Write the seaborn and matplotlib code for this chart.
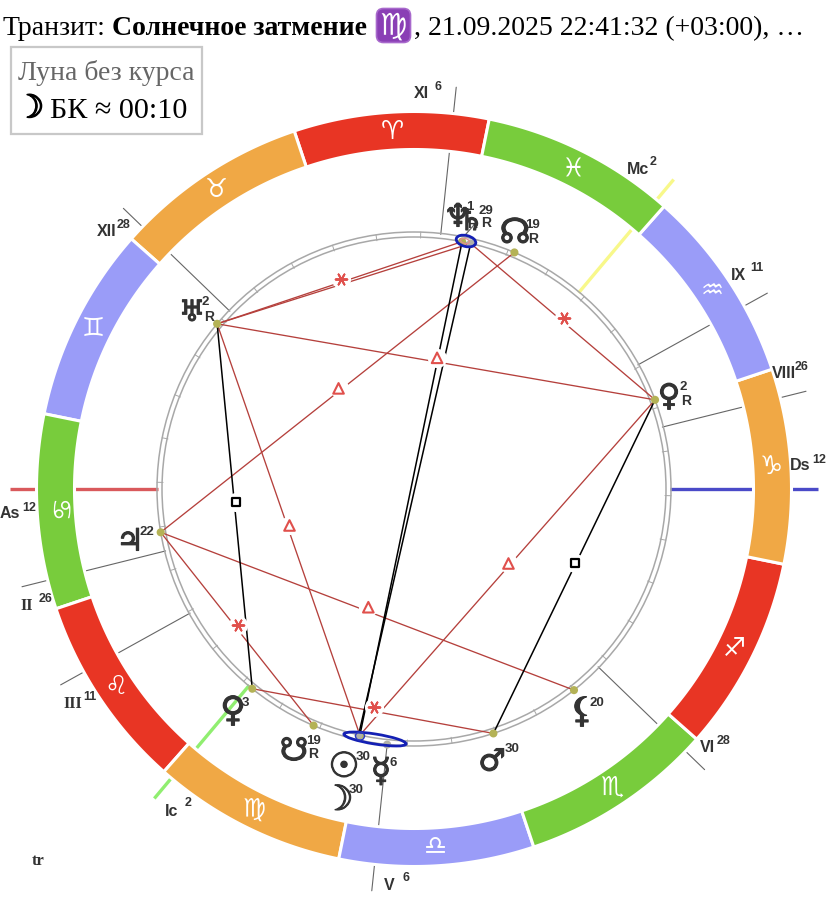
import matplotlib
matplotlib.use("Agg")
import matplotlib.pyplot as plt
import matplotlib.patheffects as pe
from matplotlib.patches import Circle, Ellipse, FancyBboxPatch, Rectangle
import numpy as np
import pandas as pd
import seaborn as sns

sns.set_theme(style="white")
plt.rcParams['font.family'] = ['Liberation Serif', 'DejaVu Sans']

# zodiac, starting from Aries
SIGNS = ["♈", "♉", "♊", "♋", "♌", "♍", "♎", "♏", "♐", "♑", "♒", "♓"]
SIGN_COLORS = ["#e83524", "#f0a845", "#9a9cf8", "#78cc3c"] * 3

# house cusps, ecliptic longitude in degrees
CUSP_NAMES = ["As", "II", "III", "Ic", "V", "VI", "Ds", "VIII", "IX", "Mc", "XI", "XII"]
CUSP_LON = [101.5, 115.5, 130.5, 151.5, 185.5, 237.5, 281.5, 295.5, 310.5, 331.5, 5.5, 57.5]
CUSP_DEG = ["12", "26", "11", "2", "6", "28", "12", "26", "11", "2", "6", "28"]

# planets, ecliptic longitude in degrees
PLANET_NAMES = ["sun", "moon", "mercury", "venus", "mars", "jupiter", "saturn",
                "uranus", "neptune", "pluto", "node", "snode", "lilith"]
PLANET_LON = [179.1, 178.8, 185.5, 152.5, 209.5, 111.2, 358.5, 61.5, 0.5, 301.8, 348.5, 168.5, 230]
PLANET_DEG = ["30", "30", "6", "3", "30", "22", "29", "2", "1", "2", "19", "19", "20"]
PLANET_RETRO = [False, False, False, False, False, False, True, True, True, True, True, True, False]
PLANET_GLYPHS = ["☉", "☽", "☿", "♀", "♂", "♃", "♄", "♅", "♆", "♀", "☊", "☋", "⚸"]

# aspects as pairs of planets
RED_TRINES = [("uranus", "pluto"), ("node", "jupiter"), ("uranus", "sun"),
              ("jupiter", "lilith"), ("pluto", "sun")]
RED_SEXTILES = [("uranus", "neptune"), ("pluto", "saturn"), ("jupiter", "snode"),
                ("venus", "mars")]
RED_PLAIN = [("uranus", "saturn")]
BLACK_SQUARES = [("uranus", "venus"), ("pluto", "mars")]
BLACK_PLAIN = [("neptune", "sun"), ("saturn", "moon")]

CX, CY = 414, 489
TEXT_DARK = "#333333"
INNER_PLANETS = ["sun", "moon", "saturn", "neptune"]


def pol(lon, r):
    t = np.radians(180 + lon - CUSP_LON[0])
    return CX + r * np.cos(t), CY - r * np.sin(t)


lon_of = dict(zip(PLANET_NAMES, PLANET_LON))


def planet_xy(name):
    return pol(lon_of[name], 252 if name in INNER_PLANETS else 257)


def ends(pair):
    return planet_xy(pair[0]), planet_xy(pair[1])


def mids(pairs):
    # the marks sit a little above the true middle of their line
    pts = [ends(p) for p in pairs]
    return pd.DataFrame({"x": [(a[0] + b[0]) / 2 + 1 for a, b in pts],
                         "y": [(a[1] + b[1]) / 2 - 4 for a, b in pts]})


def segments(pairs):
    rows = []
    for i, p in enumerate(pairs):
        a, b = ends(p)
        rows.append({"id": i, "x": a[0], "y": a[1]})
        rows.append({"id": i, "x": b[0], "y": b[1]})
    return pd.DataFrame(rows)


fig = plt.figure(figsize=(8.28, 8.99), dpi=100)
ax = fig.add_axes([0, 0, 1, 1])

# cusp lines go first, the band covers them
axis_colors = {"As": "#d9595c", "Ds": "#4a4ac8", "Mc": "#f8f88a", "Ic": "#90ee70"}
for name, lon in zip(CUSP_NAMES, CUSP_LON):
    a, b = pol(lon, 256), pol(lon, 404)
    if name in axis_colors:
        ax.plot([a[0], b[0]], [a[1], b[1]], color=axis_colors[name], lw=2.4, zorder=1,
                solid_capstyle="butt")
    else:
        ax.plot([a[0], b[0]], [a[1], b[1]], color="#666666", lw=0.8, zorder=1)

# zodiac band
for i, (sign, col) in enumerate(zip(SIGNS, SIGN_COLORS)):
    arc = np.linspace(i * 30, i * 30 + 30, 40)
    outer = np.array([pol(l, 377.5) for l in arc])
    inner = np.array([pol(l, 339.5) for l in arc[::-1]])
    pts = np.vstack([outer, inner])
    ax.fill(pts[:, 0], pts[:, 1], facecolor=col, edgecolor="white", lw=2.2, zorder=2)
    gx, gy = pol(i * 30 + 15, 358)
    ax.text(gx, gy, sign, color="white", fontsize=18.5, ha="center", va="center",
            family="DejaVu Sans", rotation=-90 if sign == "♋" else 0, zorder=3)

# inner double ring with 10 degree ticks
for r in (257, 252):
    ax.add_patch(Circle((CX, CY), r, fill=False, ec="#a8a8a8", lw=1.1, zorder=3))
for lon in range(0, 360, 10):
    a, b = pol(lon, 251), pol(lon, 257)
    ax.plot([a[0], b[0]], [a[1], b[1]], color="#a8a8a8", lw=0.7, zorder=3)

# aspect lines
red_lines = segments(RED_TRINES + RED_SEXTILES + RED_PLAIN)
sns.lineplot(data=red_lines, x="x", y="y", units="id", estimator=None, sort=False,
             color="#b5403c", lw=0.95, legend=False, ax=ax, zorder=4)
black_lines = segments(BLACK_SQUARES + BLACK_PLAIN)
sns.lineplot(data=black_lines, x="x", y="y", units="id", estimator=None, sort=False,
             color="black", lw=1.1, legend=False, ax=ax, zorder=4)

# aspect marks sit on a white spot that breaks the line
all_marks = mids(RED_TRINES + RED_SEXTILES + BLACK_SQUARES)
sns.scatterplot(data=all_marks, x="x", y="y", s=190, color="white", linewidth=0,
                legend=False, ax=ax, zorder=5)
sns.scatterplot(data=mids(RED_TRINES), x="x", y="y", marker="^", s=58, facecolor="none",
                edgecolor="#e0504c", linewidth=1.5, legend=False, ax=ax, zorder=6)
sns.scatterplot(data=mids(RED_SEXTILES), x="x", y="y", marker=(6, 2, 90), s=70,
                color="#e0504c", linewidth=1.4, legend=False, ax=ax, zorder=6)
sns.scatterplot(data=mids(BLACK_SQUARES), x="x", y="y", marker="s", s=30, facecolor="white",
                edgecolor="black", linewidth=1.6, legend=False, ax=ax, zorder=6)

# planet dots
dots = pd.DataFrame({"name": PLANET_NAMES,
                     "x": [planet_xy(n)[0] for n in PLANET_NAMES],
                     "y": [planet_xy(n)[1] for n in PLANET_NAMES]})
dots["muted"] = dots["name"].isin(["saturn", "mercury", "moon"])
sns.scatterplot(data=dots, x="x", y="y", hue="muted", palette={False: "#b4b256", True: "#b0b0a8"},
                s=34, linewidth=0, legend=False, ax=ax, zorder=7)

# conjunction ellipses
ax.add_patch(Ellipse((375, 739), 63, 10, angle=9, fill=False, ec="#1420b4", lw=2.0, zorder=8))
ax.add_patch(Ellipse((466, 241), 20, 11, angle=14, fill=False, ec="#1420b4", lw=2.0, zorder=8))
ax.add_patch(Ellipse((360, 736), 9, 8, fill=False, ec="#2a38c0", lw=1.0, zorder=8))
ax.add_patch(Ellipse((465, 241), 9, 5, angle=14, fill=False, ec="#e09090", lw=0.9, zorder=8))
ax.plot([466, 474], [234, 225], color="#666666", lw=0.9, zorder=7)

# cusp labels: centre of the name, centre of the degree
cusp_pos = {"XI": (421, 94, 438, 87), "Mc": (638, 170, 653, 162), "IX": (738, 275, 757, 268),
            "VIII": (784, 373, 802, 367), "Ds": (800, 466, 819, 460), "VI": (707, 748, 724, 741),
            "V": (389, 885, 406, 878), "Ic": (172, 811, 188, 803), "III": (73, 704, 90, 697),
            "II": (27, 606, 46, 599), "As": (10, 514, 29, 508), "XII": (107, 232, 124, 225)}
for name, deg in zip(CUSP_NAMES, CUSP_DEG):
    x, y, dx, dy = cusp_pos[name]
    fam = "Liberation Serif" if name in ("II", "III") else "Liberation Sans"
    ax.text(x, y, name, family=fam, fontweight="bold", fontsize=11.5, color=TEXT_DARK,
            ha="center", va="center", zorder=9)
    ax.text(dx, dy, deg, family="Liberation Sans", fontweight="bold", fontsize=9,
            color=TEXT_DARK, ha="center", va="center", zorder=9)

# planet labels: glyph, degree, retrograde R
planet_pos = {"neptune": (458, 218, 470, 207, 472, 224), "saturn": (471, 222, 486, 211, 486, 223),
              "node": (515, 233, 533, 225, 533, 239), "pluto": (669, 397, 683, 387, 686, 401),
              "uranus": (192, 313, 205, 302, 209, 317), "jupiter": (130, 542, 147, 532, 0, 0),
              "venus": (233, 711, 245, 703, 0, 0), "snode": (294, 752, 314, 741, 313, 754),
              "sun": (344, 767, 363, 757, 0, 0), "mercury": (381, 772, 393, 763, 0, 0),
              "moon": (338, 800, 356, 790, 0, 0), "mars": (492, 762, 512, 749, 0, 0),
              "lilith": (582, 712, 597, 703, 0, 0)}
glyph_size = {"uranus": 21, "saturn": 21, "neptune": 23, "jupiter": 22, "mars": 22,
              "snode": 23, "mercury": 24, "pluto": 22}
thick = [pe.withStroke(linewidth=0.8, foreground=TEXT_DARK)]
for name, glyph, deg, retro in zip(PLANET_NAMES, PLANET_GLYPHS, PLANET_DEG, PLANET_RETRO):
    gx, gy, dx, dy, rx, ry = planet_pos[name]
    ax.text(gx, gy, glyph, family="DejaVu Sans", fontsize=glyph_size.get(name, 25), color=TEXT_DARK,
            ha="center", va="center", path_effects=thick, zorder=9)
    ax.text(dx, dy, deg, family="Liberation Sans", fontweight="bold", fontsize=9.5,
            color=TEXT_DARK, ha="center", va="center", zorder=9)
    if retro:
        ax.text(rx, ry, "R", family="Liberation Sans", fontweight="bold", fontsize=10,
                color=TEXT_DARK, ha="center", va="center", zorder=9)

ax.text(38, 861, "tr", family="Liberation Serif", fontweight="bold", fontsize=12,
        color=TEXT_DARK, ha="center", va="center")

# title line
ax.text(3, 35, "Транзит:", fontsize=20, color="black", va="baseline")
ax.text(112, 35, "Солнечное затмение", fontsize=20, fontweight="bold", color="black", va="baseline")
ax.add_patch(FancyBboxPatch((376.5, 8.5), 34, 34, boxstyle="round,pad=0,rounding_size=7",
                            fc="#8a3fb5", ec="#a869cc", lw=1.2, zorder=3))
ax.text(393.5, 26, "♍", family="DejaVu Sans", color="white", fontsize=22,
        ha="center", va="center", zorder=4)
ax.text(414, 35, ", 21.09.2025 22:41:32 (+03:00), …", fontsize=20, color="black", va="baseline")

# moon void of course box
ax.add_patch(Rectangle((11.5, 46.5), 191, 87, fill=False, ec="#c8c8c8", lw=1.6))
ax.text(18, 80, "Луна без курса", fontsize=20, color="#666666", va="baseline")
ax.text(30, 109, "☽", family="DejaVu Sans", fontsize=23, color="black", ha="center", va="center",
        path_effects=[pe.withStroke(linewidth=1, foreground="black")])
ax.text(50, 118, "БК ≈ 00:10", fontsize=21.7, color="black", va="baseline")

ax.set_xlim(0, 828)
ax.set_ylim(899, 0)
ax.axis("off")

fig.savefig("out.png", dpi=100)
